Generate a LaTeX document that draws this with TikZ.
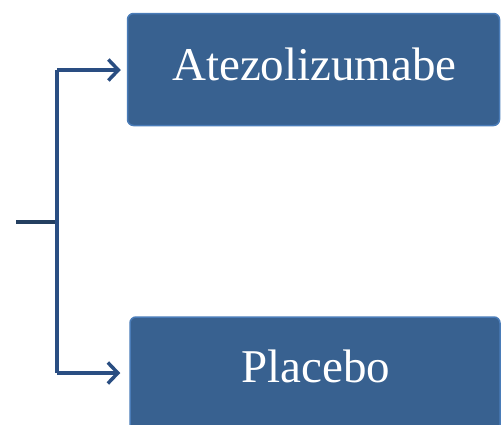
\documentclass[tikz,border=0pt]{standalone}
\usepackage{fontspec}
\setmainfont{Liberation Serif}
\usetikzlibrary{arrows.meta}
\definecolor{boxfill}{HTML}{386190}
\definecolor{boxline}{HTML}{4A7CB8}
\definecolor{conn}{HTML}{2A4E82}
\definecolor{stub}{HTML}{243F60}
\tikzset{
  armbox/.style={draw=boxline, line width=1.5pt, fill=boxfill, rounded corners=6pt, inner sep=0pt},
  armtext/.style={text=white, font=\fontsize{47}{50}\selectfont, inner sep=0pt},
  connline/.style={draw=conn, line width=3.5pt},
  arrowline/.style={connline, -{Straight Barb[length=10pt, width=21pt, line width=3.5pt]}}
}
\begin{document}
\begin{tikzpicture}[x=1pt, y=-1pt]
\useasboundingbox (0,0) rectangle (501,424);
\clip (0,0) rectangle (501,424);
\node[armbox, minimum width=372pt, minimum height=112pt] (top) at (313.5,69.5) {};
\node[armtext] (toptext) at (314.5,64) {Atezolizumabe};
\node[armbox, minimum width=370pt, minimum height=114pt] (bot) at (315,374) {};
\node[armtext] (bottext) at (316,366) {Placebo};
\coordinate (start) at (16,222);
\coordinate (junc) at (57,222);
\coordinate (upper) at (57,70);
\coordinate (lower) at (57,373);
\draw[draw=stub, line width=3.5pt] (start) -- (junc);
\draw[connline] (upper) -- (lower);
\draw[arrowline, shorten >=6pt] (upper) -- (upper -| top.west);
\draw[arrowline, shorten >=9pt] (lower) -- (lower -| bot.west);
\end{tikzpicture}
\end{document}
